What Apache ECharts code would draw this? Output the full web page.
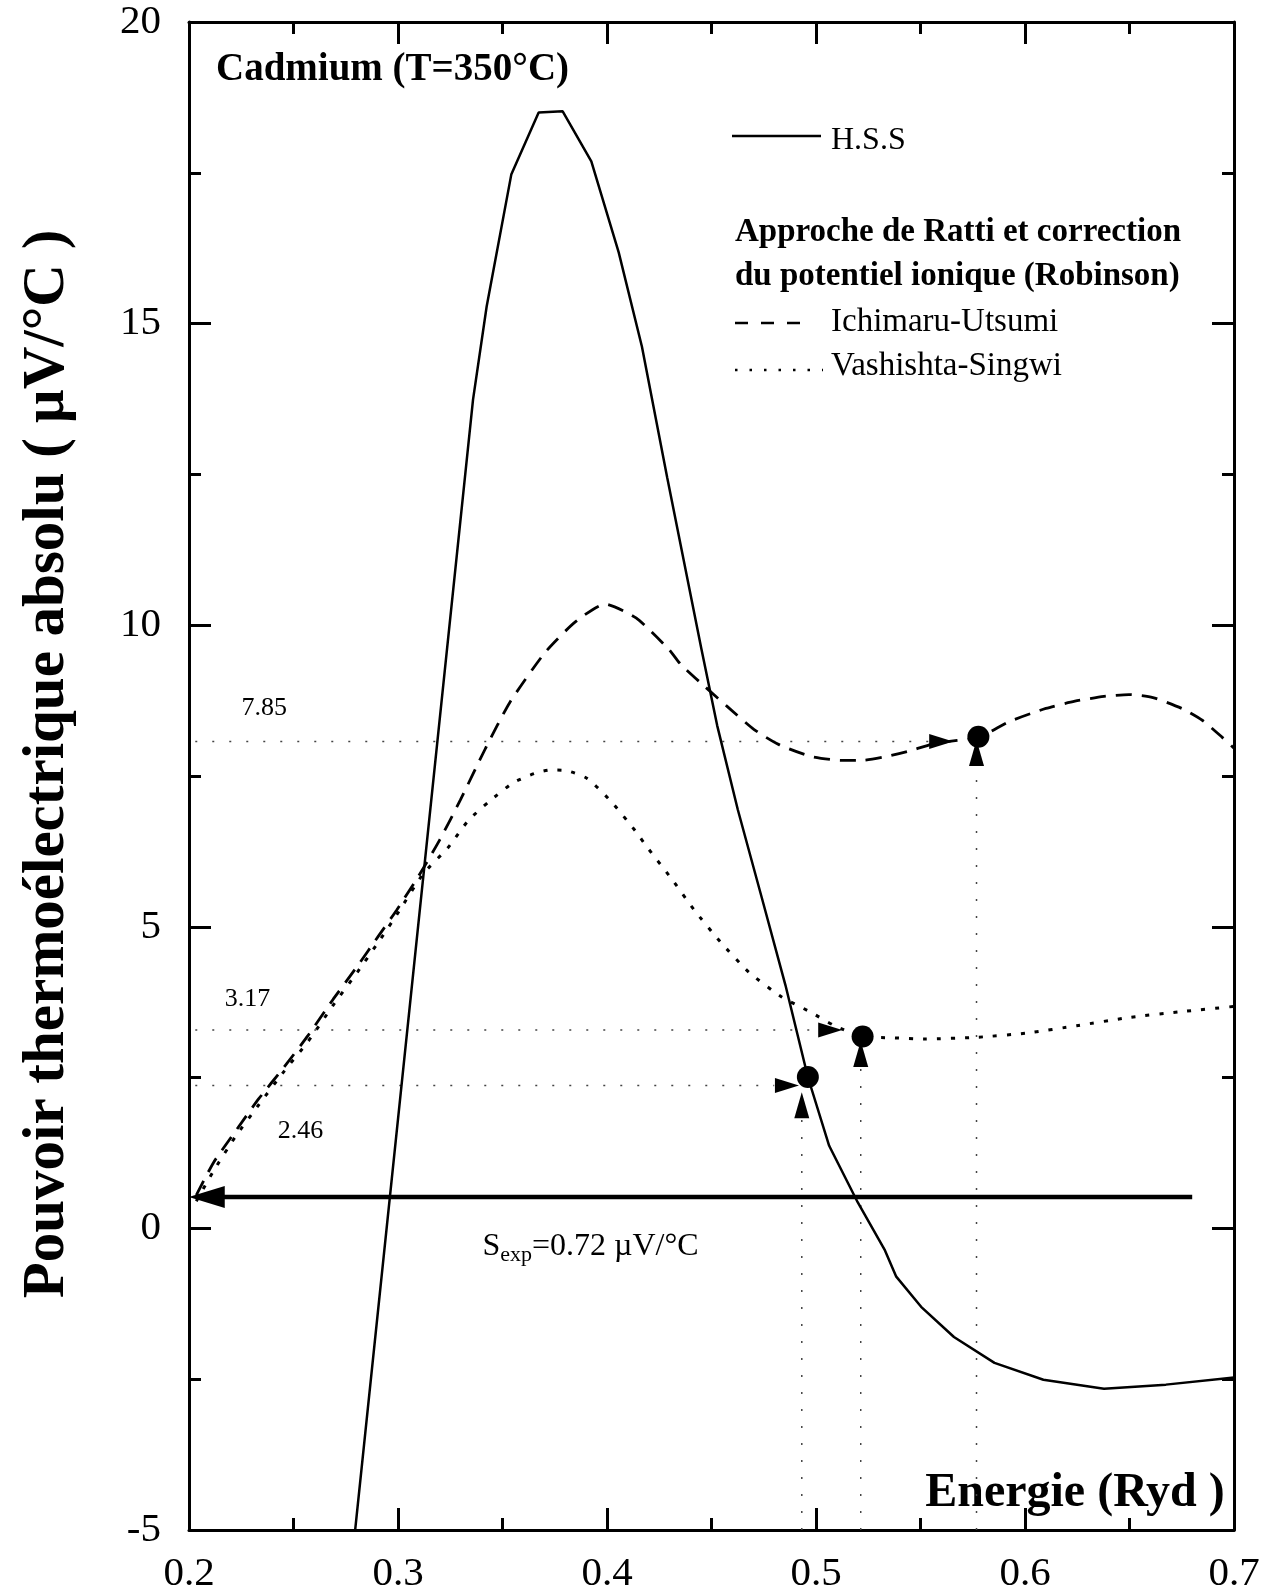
<!DOCTYPE html>
<html>
<head>
<meta charset="utf-8">
<title>Cadmium (T=350°C)</title>
<script src="https://cdn.jsdelivr.net/npm/echarts@6/dist/echarts.min.js"></script>
<style>
html, body { margin: 0; padding: 0; background: #fff; }
#main { width: 1285px; height: 1595px; }
</style>
</head>
<body>
<div id="main"></div>
<script>
// axis ranges
var energyTicks = [0.2, 0.3, 0.4, 0.5, 0.6, 0.7];
var seebeckTicks = [-5, 0, 5, 10, 15, 20];

// H.S.S (solid)
var hssE = [0.2795, 0.3359, 0.3424, 0.3542, 0.3673, 0.3788, 0.3925, 0.4056, 0.4167, 0.4288, 0.4452, 0.4527, 0.4626, 0.4740, 0.4854, 0.4961, 0.5063, 0.5200, 0.5328, 0.5384, 0.5503, 0.5660, 0.5854, 0.6088, 0.6378, 0.6674, 0.7000];
var hssS = [-5, 13.74, 15.28, 17.47, 18.50, 18.52, 17.69, 16.18, 14.62, 12.45, 9.60, 8.34, 6.94, 5.49, 4.03, 2.51, 1.37, 0.43, -0.35, -0.80, -1.30, -1.80, -2.23, -2.51, -2.66, -2.59, -2.47];

// Ichimaru-Utsumi (dashed)
var iuE = [0.2035, 0.2117, 0.2218, 0.2334, 0.2454, 0.2570, 0.2690, 0.2806, 0.2907, 0.2994, 0.3100, 0.3201, 0.3298, 0.3419, 0.3535, 0.3704, 0.3847, 0.3990, 0.4139, 0.4296, 0.4353, 0.4472, 0.4576, 0.4704, 0.4823, 0.4980, 0.5119, 0.5223, 0.5334, 0.5453, 0.5568, 0.5784, 0.5923, 0.6100, 0.6239, 0.6378, 0.6497, 0.6612, 0.6750, 0.6850, 0.6944, 0.7000];
var iuS = [0.55, 1.09, 1.59, 2.15, 2.67, 3.20, 3.80, 4.35, 4.85, 5.28, 5.85, 6.45, 7.10, 7.96, 8.72, 9.55, 10.05, 10.35, 10.12, 9.60, 9.35, 8.97, 8.65, 8.27, 8.02, 7.82, 7.76, 7.76, 7.82, 7.92, 8.04, 8.15, 8.40, 8.62, 8.74, 8.82, 8.85, 8.80, 8.62, 8.42, 8.14, 7.96];

// Vashishta-Singwi (dotted)
var vsE = [0.2035, 0.2117, 0.2218, 0.2334, 0.2454, 0.2570, 0.2690, 0.2806, 0.2907, 0.2994, 0.3121, 0.3239, 0.3336, 0.3437, 0.3552, 0.3652, 0.3729, 0.3805, 0.3905, 0.4019, 0.4138, 0.4190, 0.4308, 0.4417, 0.4540, 0.4678, 0.4834, 0.4972, 0.5089, 0.5223, 0.5363, 0.5521, 0.5776, 0.6012, 0.6247, 0.6505, 0.6739, 0.7000];
var vsS = [0.45, 0.95, 1.50, 2.05, 2.60, 3.10, 3.70, 4.25, 4.75, 5.20, 5.88, 6.31, 6.76, 7.08, 7.39, 7.54, 7.60, 7.59, 7.46, 7.08, 6.58, 6.33, 5.80, 5.28, 4.76, 4.25, 3.84, 3.59, 3.36, 3.18, 3.16, 3.14, 3.17, 3.24, 3.36, 3.50, 3.59, 3.68];

// points where S = S_exp is reached (H.S.S, V-S, I-U)
var hitE = [0.4961, 0.5223, 0.5777];
var hitS = [2.51, 3.18, 8.15];
var levelS = [2.37, 3.29, 8.07];      // horizontal guides as drawn
var levelEnd = [0.480, 0.501, 0.554];
var levelText = ['2.46', '3.17', '7.85'];
var levelTextE = [0.2533, 0.2280, 0.2360];
var levelTextS = [1.62, 3.80, 8.62];
var guideE = [0.4932, 0.5214, 0.5768]; // vertical guides
var guideTop = [1.82, 2.67, 7.66];
var rightTriE = [0.4861, 0.5068, 0.5599];
var upTriS = [2.04, 2.89, 7.88];

var sExpLevel = 0.52;
var sExpFrom = 0.68;
var sExpTo = 0.2085;

function zip(a, b) {
    var out = [];
    for (var i = 0; i < a.length; i = i + 1) {
        out.push([a[i], b[i]]);
    }
    return out;
}

var serif = '"Liberation Serif", "DejaVu Serif", serif';
var black = { color: '#000', opacity: 1 };
var series = [];

series.push({
    name: 'H.S.S', type: 'line', data: zip(hssE, hssS), symbol: 'none',
    lineStyle: { color: '#000', width: 2.5 }, z: 5
});
series.push({
    name: 'Ichimaru-Utsumi', type: 'line', data: zip(iuE, iuS), symbol: 'none', smooth: 0.2,
    lineStyle: { color: '#000', width: 2.8, type: [16, 10] }, z: 5
});
series.push({
    name: 'Vashishta-Singwi', type: 'line', data: zip(vsE, vsS), symbol: 'none', smooth: 0.2,
    lineStyle: { color: '#000', width: 3, type: [4, 10] }, z: 5
});

// guide lines
for (var i = 0; i < hitE.length; i = i + 1) {
    series.push({
        type: 'line', symbol: 'none', silent: true,
        data: [[0.203, levelS[i]], [levelEnd[i], levelS[i]]],
        lineStyle: { color: '#444', width: 1.5, type: [2, 15] }, z: 3
    });
    series.push({
        type: 'line', symbol: 'none', silent: true,
        data: [[guideE[i], -5], [guideE[i], guideTop[i]]],
        lineStyle: { color: '#444', width: 1.5, type: [2, 15] }, z: 3
    });
}

// S_exp arrow
series.push({
    type: 'line', symbol: 'none', silent: true,
    data: [[sExpFrom, sExpLevel], [sExpTo, sExpLevel]],
    lineStyle: { color: '#000', width: 4.5 }, z: 6
});
series.push({
    type: 'scatter', silent: true, data: [[sExpTo, sExpLevel]],
    symbol: 'triangle', symbolSize: [22, 36], symbolRotate: 90,
    itemStyle: black, z: 7
});

// markers
var circles = zip(hitE, hitS);
var rightTris = zip(rightTriE, levelS);
var upTris = zip(guideE, upTriS);
series.push({
    type: 'scatter', silent: true, data: circles, symbol: 'circle', symbolSize: 22,
    itemStyle: black, z: 8
});
series.push({
    type: 'scatter', silent: true, data: rightTris, symbol: 'triangle', symbolSize: [15, 24],
    symbolRotate: -90, itemStyle: black, z: 8
});
series.push({
    type: 'scatter', silent: true, data: upTris, symbol: 'triangle', symbolSize: [15, 26],
    itemStyle: black, z: 8
});

// annotation texts
var notes = [];
for (var j = 0; j < levelText.length; j = j + 1) {
    notes.push({ value: [levelTextE[j], levelTextS[j]], label: { formatter: levelText[j] } });
}
series.push({
    type: 'scatter', silent: true, symbolSize: 0, data: notes, itemStyle: black,
    label: { show: true, position: 'inside', color: '#000', fontFamily: serif, fontSize: 26 },
    z: 9
});
series.push({
    type: 'scatter', silent: true, symbolSize: 0, itemStyle: black,
    data: [{ value: [0.3404, -0.30] }],
    label: {
        show: true, position: 'inside', align: 'left',
        formatter: '{s|S}{b|exp}{s|=0.72 \u00b5V/\u00b0C}',
        rich: {
            s: { fontFamily: serif, fontSize: 32, color: '#000', lineHeight: 40, verticalAlign: 'middle' },
            b: { fontFamily: serif, fontSize: 22, color: '#000', lineHeight: 20, verticalAlign: 'bottom' }
        }
    },
    z: 9
});

var tickStyle = { color: '#000', width: 3 };
var gridBox = { left: 189, right: 51, top: 22, bottom: 65 };

var option = {
    animation: false,
    backgroundColor: '#fff',
    grid: { left: gridBox.left, right: gridBox.right, top: gridBox.top, bottom: gridBox.bottom },
    xAxis: [
        {
            type: 'value', min: energyTicks[0], max: energyTicks[energyTicks.length - 1], interval: 0.1,
            position: 'bottom',
            axisLine: { show: true, onZero: false, lineStyle: tickStyle },
            axisTick: { show: true, inside: true, length: 22, lineStyle: tickStyle },
            minorTick: { show: true, splitNumber: 2, length: 12, lineStyle: tickStyle },
            splitLine: { show: false },
            axisLabel: {
                color: '#000', fontFamily: serif, fontSize: 41, margin: 24,
                formatter: function (v) { return v.toFixed(1); }
            }
        },
        {
            type: 'value', min: energyTicks[0], max: energyTicks[energyTicks.length - 1], interval: 0.1,
            position: 'top',
            axisLine: { show: true, onZero: false, lineStyle: tickStyle },
            axisTick: { show: true, inside: true, length: 22, lineStyle: tickStyle },
            minorTick: { show: true, splitNumber: 2, length: 12, lineStyle: tickStyle },
            splitLine: { show: false },
            axisLabel: { show: false }
        }
    ],
    yAxis: [
        {
            type: 'value', min: seebeckTicks[0], max: seebeckTicks[seebeckTicks.length - 1], interval: 5,
            position: 'left',
            axisLine: { show: true, onZero: false, lineStyle: tickStyle },
            axisTick: { show: true, inside: true, length: 22, lineStyle: tickStyle },
            minorTick: { show: true, splitNumber: 2, length: 12, lineStyle: tickStyle },
            splitLine: { show: false },
            axisLabel: { color: '#000', fontFamily: serif, fontSize: 41, margin: 28 }
        },
        {
            type: 'value', min: seebeckTicks[0], max: seebeckTicks[seebeckTicks.length - 1], interval: 5,
            position: 'right',
            axisLine: { show: true, onZero: false, lineStyle: tickStyle },
            axisTick: { show: true, inside: true, length: 22, lineStyle: tickStyle },
            minorTick: { show: true, splitNumber: 2, length: 12, lineStyle: tickStyle },
            splitLine: { show: false },
            axisLabel: { show: false }
        }
    ],
    graphic: [
        {
            type: 'text', x: 48, y: 764, rotation: Math.PI / 2,
            style: {
                text: 'Pouvoir thermo\u00e9lectrique absolu ( \u00b5V/\u00b0C )',
                font: 'bold 59px ' + serif, fill: '#000', align: 'center', verticalAlign: 'middle'
            }
        },
        {
            type: 'text', x: 1075, y: 1494,
            style: { text: 'Energie (Ryd )', font: 'bold 48px ' + serif, fill: '#000', align: 'center', verticalAlign: 'middle' }
        },
        {
            type: 'text', x: 216, y: 70,
            style: { text: 'Cadmium (T=350\u00b0C)', font: 'bold 39px ' + serif, fill: '#000', align: 'left', verticalAlign: 'middle' }
        },
        // legend
        { type: 'line', shape: { x1: 732, y1: 136, x2: 821, y2: 136 }, style: { stroke: '#000', lineWidth: 2.5 } },
        {
            type: 'text', x: 831, y: 141,
            style: { text: 'H.S.S', font: '32px ' + serif, fill: '#000', align: 'left', verticalAlign: 'middle' }
        },
        {
            type: 'text', x: 735, y: 232,
            style: { text: 'Approche de Ratti et correction', font: 'bold 33px ' + serif, fill: '#000', align: 'left', verticalAlign: 'middle' }
        },
        {
            type: 'text', x: 735, y: 276,
            style: { text: 'du potentiel ionique (Robinson)', font: 'bold 33px ' + serif, fill: '#000', align: 'left', verticalAlign: 'middle' }
        },
        { type: 'line', shape: { x1: 735, y1: 323, x2: 800, y2: 323 }, style: { stroke: '#000', lineWidth: 2.5, lineDash: [13, 13] } },
        {
            type: 'text', x: 831, y: 322,
            style: { text: 'Ichimaru-Utsumi', font: '33px ' + serif, fill: '#000', align: 'left', verticalAlign: 'middle' }
        },
        { type: 'line', shape: { x1: 735, y1: 370, x2: 823, y2: 370 }, style: { stroke: '#000', lineWidth: 2.5, lineDash: [2.5, 12] } },
        {
            type: 'text', x: 831, y: 366,
            style: { text: 'Vashishta-Singwi', font: '33px ' + serif, fill: '#000', align: 'left', verticalAlign: 'middle' }
        }
    ],
    series: series
};

var myChart = echarts.init(document.getElementById('main'));
myChart.setOption(option);
</script>
</body>
</html>
